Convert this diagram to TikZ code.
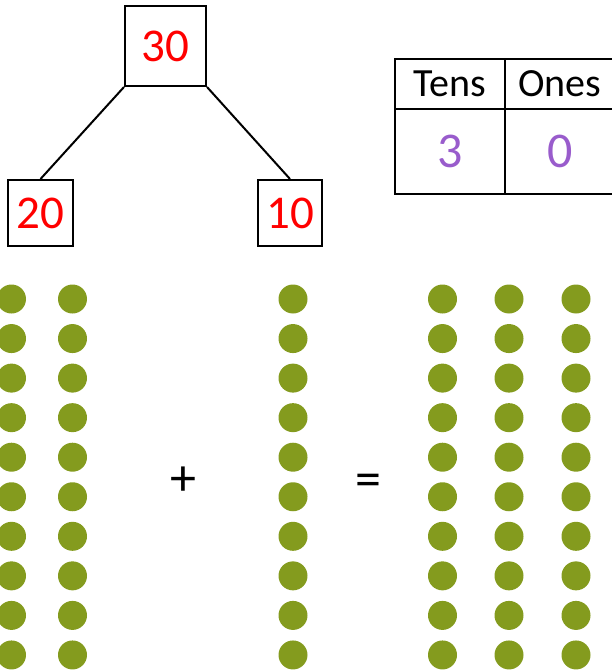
\documentclass[tikz,border=0pt]{standalone}
\usepackage{fontspec}
\setmainfont{Carlito}
\usetikzlibrary{positioning}

\definecolor{dotgreen}{RGB}{132,155,30}
\definecolor{numpurple}{RGB}{153,92,204}

\begin{document}
\begin{tikzpicture}[
    x=1pt, y=-1pt,
    numbox/.style={rectangle, draw, line width=2pt, inner sep=0pt, text=red, font=\fontsize{47}{47}\selectfont},
    cell/.style={rectangle, draw, line width=2pt, inner sep=0pt, outer sep=0pt, minimum width=110pt},
    headcell/.style={cell, minimum height=50pt, font=\fontsize{40}{40}\selectfont},
    valcell/.style={cell, minimum height=85pt, text=numpurple, font=\fontsize{50}{50}\selectfont},
    link/.style={line width=2pt},
    dot/.style={circle, fill=dotgreen, inner sep=0pt, minimum size=29pt},
    sign/.style={font=\fontsize{52}{52}\selectfont}
]
\useasboundingbox (0,0) rectangle (612,671);

% Number bond
\node[numbox, minimum width=81pt, minimum height=80pt] (b30) at (165.5,46) {30};
\node[numbox, minimum width=65pt, minimum height=66pt] (b20) at (40.5,213) {20};
\node[numbox, minimum width=64pt, minimum height=66pt] (b10) at (290,213) {10};

\draw[link] (b30.south west) -- (b20.north);
\draw[link] (b30.south east) -- (b10.north);

% Place value table
\node[headcell] (tens) at (450,84) {Tens};
\node[headcell] (ones) [right=0pt of tens] {Ones};
\node[valcell] (tensval) [below=0pt of tens] {3};
\node[valcell] (onesval) [below=0pt of ones] {0};

% Dots
\foreach \col in {11.5,72.5,293,442.5,509,576}
  \foreach \row in {0,...,9}
    \node[dot] (d-\col-\row) at (\col,{299+39.55*\row}) {};

% Signs
\node[sign] (plus) at (183,481.5) {+};
\node[sign] (equals) at (368.5,485) {=};

\end{tikzpicture}
\end{document}
